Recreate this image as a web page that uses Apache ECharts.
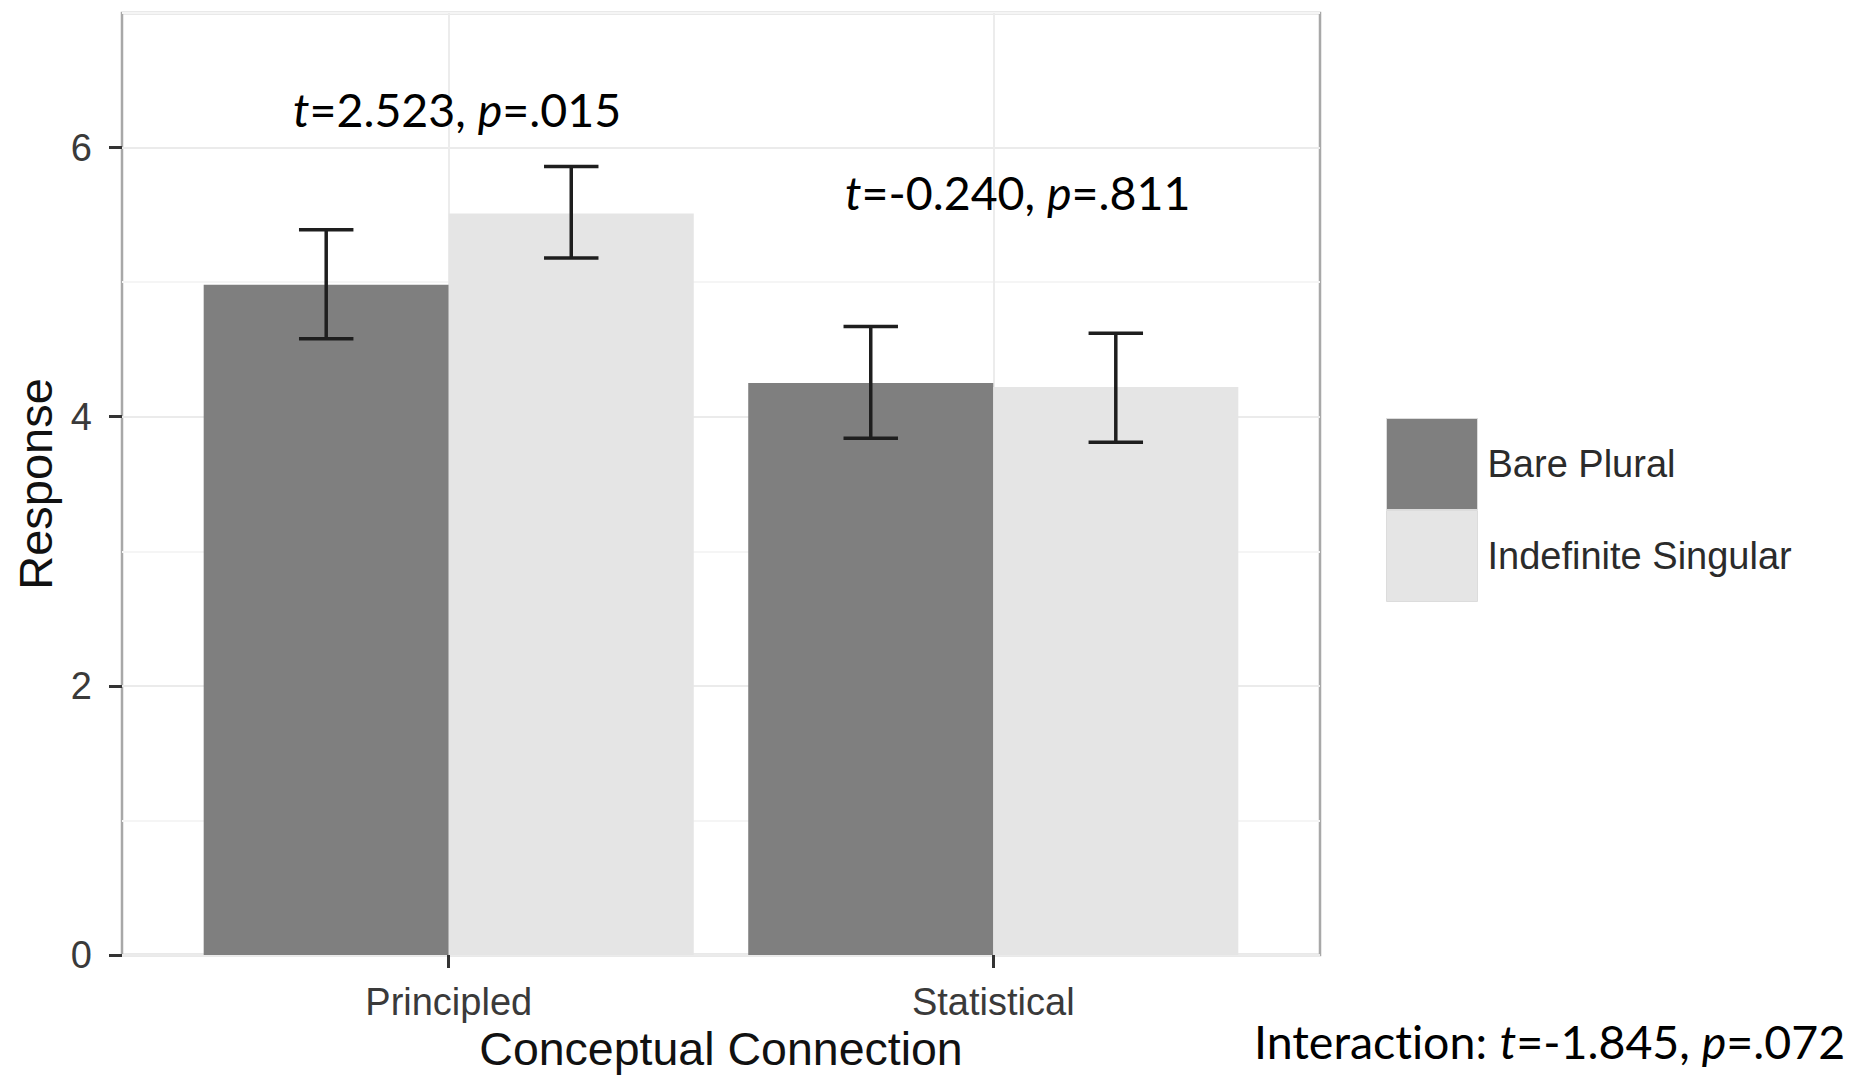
<!DOCTYPE html>
<html>
<head>
<meta charset="utf-8">
<script src="https://cdn.jsdelivr.net/npm/echarts@6/dist/echarts.min.js"></script>
<style>
html,body{margin:0;padding:0;background:#fff;overflow:hidden;}
#chart{width:1856px;height:1075px;}
#chart text, #chart tspan{font-variant-ligatures:none;font-feature-settings:"liga" 0, "dlig" 0;}
</style>
</head>
<body>
<div id="chart"></div>
<script>
// ---- data ----
const categories = ['Principled', 'Statistical'];
const seriesNames = ['Bare Plural', 'Indefinite Singular'];
const barePlural = [4.98, 4.25];
const indefiniteSingular = [5.51, 4.22];
const barePluralLow = [4.58, 3.84];
const barePluralHigh = [5.39, 4.67];
const indefiniteLow = [5.18, 3.81];
const indefiniteHigh = [5.86, 4.62];
const yTicks = [0, 2, 4, 6];
const annotations = [
  { parts: [['i','t'], ['n','=2.523, '], ['i','p'], ['n','=.015']] },
  { parts: [['i','t'], ['n','=-0.240, '], ['i','p'], ['n','=.811']] },
  { parts: [['n','Interaction: '], ['i','t'], ['n','=-1.845, '], ['i','p'], ['n','=.072']] }
];

// ---- layout helpers ----
const DODGE = 0.9;
const HALF = DODGE / 4;
const BARW = DODGE / 2;
const ERRW = 0.1;
const colors = ['#7f7f7f', '#e5e5e5'];
const valueSets = [barePlural, indefiniteSingular];
const lowSets = [barePluralLow, indefiniteLow];
const highSets = [barePluralHigh, indefiniteHigh];

function barData(s) {
  return categories.map((c, i) => [i + 1 + (s === 0 ? -HALF : HALF), valueSets[s][i]]);
}
function errData() {
  const out = [];
  for (let s = 0; s < 2; s++) {
    categories.forEach((c, i) => {
      out.push([i + 1 + (s === 0 ? -HALF : HALF), lowSets[s][i], highSets[s][i]]);
    });
  }
  return out;
}

function renderBar(params, api) {
  const x = api.value(0), v = api.value(1);
  const p0 = api.coord([x - BARW / 2, v]);
  const p1 = api.coord([x + BARW / 2, 0]);
  return {
    type: 'rect',
    shape: { x: p0[0], y: p0[1], width: p1[0] - p0[0], height: p1[1] - p0[1] },
    style: { fill: api.visual('color') }
  };
}
function renderErr(params, api) {
  const x = api.value(0);
  const lo = api.coord([x, api.value(1)]);
  const hi = api.coord([x, api.value(2)]);
  const hw = api.size([ERRW, 0])[0] / 2;
  const st = { stroke: '#1e1e1e', lineWidth: 3.5 };
  return {
    type: 'group',
    children: [
      { type: 'line', shape: { x1: lo[0], y1: lo[1], x2: hi[0], y2: hi[1] }, style: st },
      { type: 'line', shape: { x1: hi[0] - hw, y1: hi[1], x2: hi[0] + hw, y2: hi[1] }, style: st },
      { type: 'line', shape: { x1: lo[0] - hw, y1: lo[1], x2: lo[0] + hw, y2: lo[1] }, style: st }
    ]
  };
}

const ANN_FONT = 'Lato';
const ANN_SIZE = 46.5;
const rich = {
  n: { fontFamily: ANN_FONT, fontSize: ANN_SIZE, fill: '#000', lineHeight: 50 },
  i: { fontFamily: ANN_FONT, fontSize: ANN_SIZE, fill: '#000', fontStyle: 'italic', lineHeight: 50 }
};
function annText(a) {
  return a.parts.map(p => '{' + p[0] + '|' + p[1] + '}').join('');
}
const annPos = [[293, 109], [845, 192], [1254, 1041]];

const chart = echarts.init(document.getElementById('chart'), null, { renderer: 'svg' });
const option = {
  animation: false,
  backgroundColor: '#ffffff',
  grid: {
    left: 122, right: 536, top: 13, bottom: 120,
    outerBoundsMode: 'none',
    containLabel: false,
    show: true, borderColor: '#a8a8a8', borderWidth: 2.5, backgroundColor: 'transparent'
  },
  legend: {
    data: seriesNames,
    orient: 'vertical',
    left: 1386, top: 418,
    padding: 0,
    itemGap: 0,
    itemWidth: 91, itemHeight: 91,
    icon: 'rect',
    itemStyle: { borderColor: '#dcdcdc', borderWidth: 1 },
    textStyle: { fontFamily: 'Liberation Sans', fontSize: 38, color: '#2b2b2b', padding: [0, 0, 0, 5] },
    selectedMode: false
  },
  xAxis: {
    type: 'value',
    min: 0.4, max: 2.6,
    name: 'Conceptual Connection',
    nameLocation: 'middle',
    nameGap: 67,
    nameTextStyle: { fontFamily: 'Liberation Sans', fontSize: 46.5, color: '#111', lineHeight: 44, padding: 0 },
    axisLine: { show: false },
    axisTick: { show: true, customValues: [1, 2], length: 13, lineStyle: { color: '#333', width: 3 } },
    axisLabel: {
      customValues: [1, 2],
      formatter: v => categories[Math.round(v) - 1],
      fontFamily: 'Liberation Sans', fontSize: 38, color: '#3a3a3a', margin: 28
    },
    splitLine: { show: true, lineStyle: { color: '#ececec', width: 2 } }
  },
  yAxis: [
    {
      type: 'value', min: 0, max: 7, interval: 1,
      axisLine: { show: false }, axisTick: { show: false }, axisLabel: { show: false },
      splitLine: { show: true, lineStyle: { color: ['#ebebeb', '#f5f5f5'], width: 2 } }
    },
    {
      type: 'value', min: 0, max: 7, position: 'left',
      name: 'Response',
      nameLocation: 'middle',
      nameGap: 63,
      nameRotate: 90,
      nameTextStyle: { fontFamily: 'Liberation Sans', fontSize: 47, color: '#111' },
      axisLine: { show: false },
      axisTick: { show: true, customValues: yTicks, length: 13, lineStyle: { color: '#333', width: 3 } },
      axisLabel: { customValues: yTicks, fontFamily: 'Liberation Sans', fontSize: 38, color: '#3a3a3a', margin: 30 },
      splitLine: { show: false }
    }
  ],
  series: [
    {
      name: seriesNames[0], type: 'custom', renderItem: renderBar,
      itemStyle: { color: colors[0] }, data: barData(0), encode: { x: 0, y: 1 }, z: 2
    },
    {
      name: seriesNames[1], type: 'custom', renderItem: renderBar,
      itemStyle: { color: colors[1] }, data: barData(1), encode: { x: 0, y: 1 }, z: 2
    },
    {
      name: 'errors', type: 'custom', renderItem: renderErr,
      itemStyle: { color: '#1e1e1e' }, data: errData(), encode: { x: 0, y: [1, 2] }, z: 3
    }
  ],
  graphic: annotations.map((a, k) => ({
    type: 'text',
    x: annPos[k][0], y: annPos[k][1],
    z: 100,
    style: { text: annText(a), rich: rich, align: 'left', verticalAlign: 'middle', fill: '#000',
             fontFamily: ANN_FONT, fontSize: ANN_SIZE }
  }))
};
chart.setOption(option);
</script>
</body>
</html>
